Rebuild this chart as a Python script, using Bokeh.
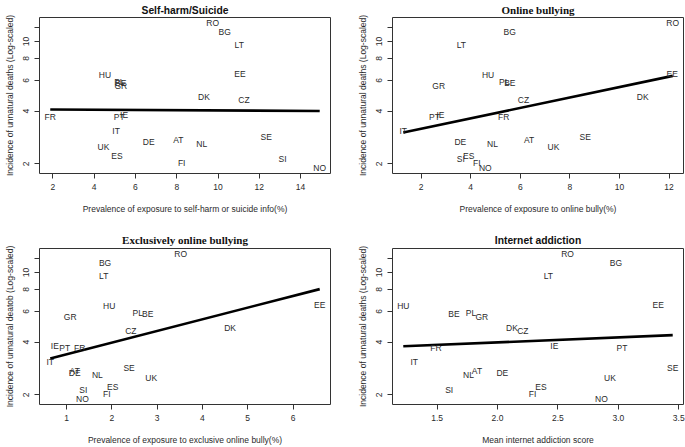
import numpy as np
from bokeh.plotting import figure
from bokeh.layouts import row, column
from bokeh.models import FixedTicker, Range1d, ColumnDataSource
from bokeh.core.properties import value
from bokeh.embed import file_html
from bokeh.resources import INLINE

countries = ["RO", "BG", "LT", "EE", "HU", "PL", "BE", "GR", "DK", "CZ", "IE", "PT",
             "FR", "IT", "SE", "AT", "DE", "NL", "UK", "ES", "SI", "FI", "NO"]
deaths = [12.7, 11.3, 9.57, 6.55, 6.43, 5.85, 5.80, 5.60, 4.83, 4.60, 3.78, 3.71,
          3.68, 3.09, 2.83, 2.72, 2.67, 2.61, 2.49, 2.21, 2.13, 2.01, 1.90]

x_selfharm = [9.74, 10.32, 11.03, 11.06, 4.52, 5.22, 5.28, 5.29, 9.32, 11.26, 5.45, 5.21,
              1.87, 5.06, 12.34, 8.08, 6.64, 9.21, 4.45, 5.10, 13.13, 8.24, 14.93]
x_bully = [12.15, 5.57, 3.62, 12.13, 4.70, 5.35, 5.58, 2.71, 10.94, 6.13, 2.78, 2.54,
           5.33, 1.28, 8.62, 6.36, 3.58, 4.88, 7.34, 3.92, 3.60, 4.25, 4.59]
x_excl = [3.52, 1.85, 1.82, 6.59, 1.94, 2.57, 2.79, 1.08, 4.61, 2.42, 0.74, 0.96,
          1.29, 0.64, 2.38, 1.18, 1.18, 1.68, 2.87, 2.02, 1.37, 1.89, 1.35]
x_addict = [2.58, 2.98, 2.42, 3.33, 1.22, 1.78, 1.64, 1.87, 2.12, 2.21, 2.47, 3.03,
            1.49, 1.31, 3.45, 1.83, 2.04, 1.76, 2.93, 2.36, 1.60, 2.29, 2.86]

titles = ["Self-harm/Suicide", "Online bullying", "Exclusively online bullying", "Internet addiction"]
title_fonts = ["Liberation Sans", "Liberation Serif", "Liberation Serif", "Liberation Sans"]
title_sizes = ["10.3px", "11px", "11px", "10.3px"]
xlabels = ["Prevalence of exposure to self-harm or suicide info(%)",
           "Prevalence of exposure to online bully(%)",
           "Prevalence of exposure to exclusive online bully(%)",
           "Mean internet addiction score"]
ylabels = ["Incidence of unnatural deaths (Log-scaled)",
           "Incidence of unnatural deaths (Log-scaled)",
           "Incidence of unnatural deatob (Log-scaled)",
           "Incidence of unnatural deaths (Log-scaled)"]
xticks = [[2, 4, 6, 8, 10, 12, 14], [2, 4, 6, 8, 10, 12], [1, 2, 3, 4, 5, 6],
          [1.5, 2.0, 2.5, 3.0, 3.5]]
xtick_labels = [["2", "4", "6", "8", "10", "12", "14"], ["2", "4", "6", "8", "10", "12"],
                ["1", "2", "3", "4", "5", "6"], ["1.5", "2.0", "2.5", "3.0", "3.5"]]
yticks = [2, 4, 6, 8, 10, 12]
ytick_labels = ["2", "4", "6", "8", "10", ""]

SANS = "Liberation Sans"
TXT = "#2a2a2a"


def make_panel(i, xs, w, h, bl, br, bt, bb, t_standoff, t_offset):
    xs = np.array(xs, dtype=float)
    ys = np.array(deaths, dtype=float)
    xr = xs.max() - xs.min()
    ly = np.log10(ys)
    lr = ly.max() - ly.min()
    p = figure(width=w, height=h, y_axis_type="log", output_backend="svg",
               toolbar_location=None,
               x_range=Range1d(xs.min() - 0.04 * xr, xs.max() + 0.04 * xr),
               y_range=Range1d(10 ** (ly.min() - 0.04 * lr), 10 ** (ly.max() + 0.04 * lr)),
               min_border_left=bl, min_border_right=br, min_border_top=bt, min_border_bottom=bb)
    p.grid.visible = False
    p.outline_line_color = "#333333"
    p.outline_line_width = 1
    p.border_fill_color = "white"
    p.background_fill_color = "white"

    p.title.text = titles[i]
    p.title.align = "center"
    p.title.text_font = title_fonts[i]
    p.title.text_font_style = "bold"
    p.title.text_font_size = title_sizes[i]
    p.title.text_color = "#111111"
    p.title.standoff = t_standoff
    p.title.offset = t_offset

    for ax in (p.xaxis[0], p.yaxis[0]):
        ax.axis_line_color = None
        ax.major_tick_in = 0
        ax.major_tick_out = 5
        ax.major_tick_line_color = "#333333"
        ax.minor_tick_line_color = None
        ax.major_label_text_font = SANS
        ax.major_label_text_font_size = "8.5px"
        ax.major_label_text_color = TXT
        ax.axis_label_text_font = SANS
        ax.axis_label_text_font_size = "8.5px"
        ax.axis_label_text_font_style = "normal"
        ax.axis_label_text_color = TXT

    p.xaxis.ticker = FixedTicker(ticks=xticks[i])
    p.xaxis.major_label_overrides = {float(t): l for t, l in zip(xticks[i], xtick_labels[i])}
    p.xaxis.axis_label = xlabels[i]
    p.xaxis.major_label_standoff = 5
    p.xaxis.axis_label_standoff = 11

    p.yaxis.ticker = FixedTicker(ticks=yticks)
    p.yaxis.major_label_overrides = {float(t): l for t, l in zip(yticks, ytick_labels)}
    p.yaxis.major_label_orientation = "vertical"
    p.yaxis.axis_label = ylabels[i]
    p.yaxis.major_label_standoff = 5
    p.yaxis.axis_label_standoff = 6

    coef = np.polyfit(xs, ly, 1)
    fx = np.array([xs.min(), xs.max()])
    fy = 10 ** (coef[1] + coef[0] * fx)
    p.line(fx, fy, line_color="black", line_width=2.6)

    src = ColumnDataSource(dict(x=xs, y=ys, c=countries))
    p.text(x="x", y="y", text="c", source=src, text_align="center", text_baseline="middle",
           text_font=value(SANS), text_font_size="8.5px", text_color=TXT)
    return p


p1 = make_panel(0, x_selfharm, 350, 225, 39, 20, 15, 52, 3, 0)
p2 = make_panel(1, x_bully, 335, 225, 42, 2, 15, 52, 3, 5)
p3 = make_panel(2, x_excl, 350, 222, 39, 20, 23, 41, 6, 11)
p4 = make_panel(3, x_addict, 335, 222, 42, 2, 23, 41, 6, 3)

layout = column(row(p1, p2), row(p3, p4))

open("out.html", "w").write(file_html(layout, INLINE))
